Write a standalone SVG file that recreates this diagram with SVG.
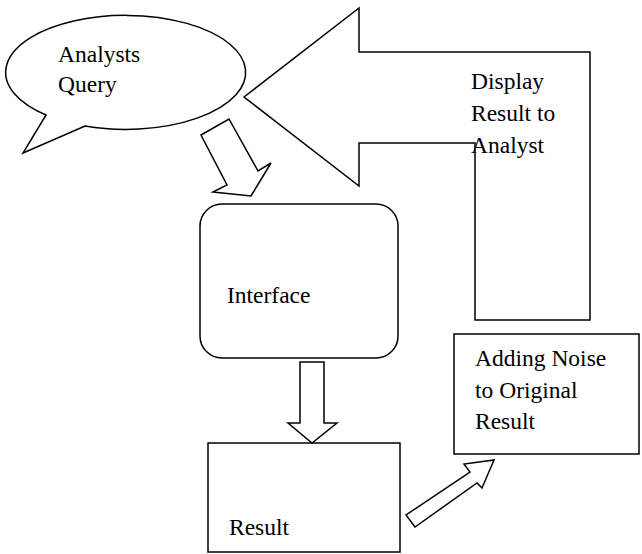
<svg xmlns="http://www.w3.org/2000/svg" width="642" height="554" viewBox="0 0 642 554">
<style>
.s{fill:#fff;stroke:#000;stroke-width:1.5;stroke-linejoin:miter}
text{font-size:23.5px;fill:#000}
</style>
<rect width="642" height="554" fill="#fff"/>
<g font-family="Liberation Serif, Times New Roman, DejaVu Serif, serif">
<g id="analysts-query">
<path class="s" d="M85,126 A120 57 0 1 0 46,115 L23,153 Z"/>
<text x="58" y="62">Analysts</text>
<text x="58" y="92">Query</text>
</g>
<g id="display-result">
<polygon class="s" points="244,97 359,8 359,52 590,52 590,320 475,320 475,143 359,143 359,186"/>
<text x="471" y="89">Display</text>
<text x="471" y="121">Result to</text>
<text x="471" y="153">Analyst</text>
</g>
<g id="interface">
<rect class="s" x="200" y="204" width="198" height="154" rx="22" ry="22"/>
<text x="227" y="303">Interface</text>
</g>
<g id="result">
<rect class="s" x="208" y="443" width="192" height="109"/>
<text x="229" y="535">Result</text>
</g>
<g id="adding-noise">
<rect class="s" x="454" y="334" width="185" height="120"/>
<text x="475" y="366">Adding Noise</text>
<text x="475" y="398">to Original</text>
<text x="475" y="429">Result</text>
</g>
<g id="connectors">
<polygon class="s" points="201,135 229,119 258,171 271,163 251,196 213,192 227,185"/>
<polygon class="s" points="300,362 324,362 324,423 337,423 312,443 288,423 300,423"/>
<polygon class="s" points="415,527 406,515 470,472 464,464 494,460 482,488 477,483"/>
</g>
</g>
</svg>
